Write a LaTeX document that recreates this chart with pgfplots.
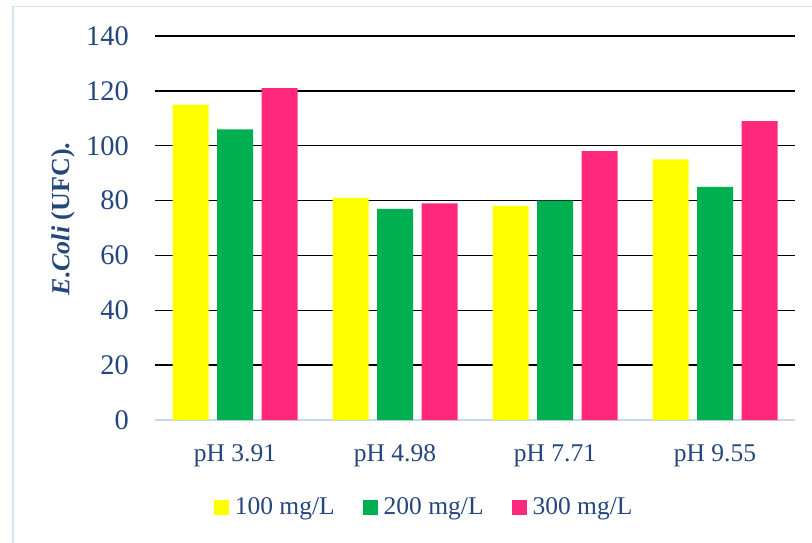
\documentclass[border=0pt]{standalone}
\usepackage{pgfplots}
\pgfplotsset{compat=1.18}
\usepackage{fontspec}
\setmainfont{Liberation Serif}

\definecolor{navy}{RGB}{35,70,125}
\definecolor{barY}{RGB}{255,255,0}
\definecolor{barG}{RGB}{0,176,80}
\definecolor{barP}{RGB}{255,40,125}
\definecolor{frameblue}{RGB}{214,227,243}
\definecolor{baseblue}{RGB}{200,216,236}

\begin{document}
\begin{tikzpicture}[x=1pt,y=1pt]
\useasboundingbox (0,0) rectangle (812,542);
% chart frame
\draw[frameblue, line width=1.4pt] (13,-5) -- (13,535.5) -- (820,535.5);
\begin{axis}[
  at={(155pt,122pt)}, anchor=south west,
  scale only axis, width=640pt, height=384pt,
  xmin=-0.5, xmax=3.5, ymin=0, ymax=140,
  ybar=8.5pt, bar width=36pt,
  axis line style={draw=none},
  major tick length=0pt,
  ytick={20,40,...,140},
  extra y ticks={0},
  extra y tick style={grid=major, major grid style={baseblue, line width=2.2pt}},
  ymajorgrids,
  major grid style={black, line width=1.5pt},
  xtick={0,1,2,3},
  xticklabels={pH 3.91, pH 4.98, pH 7.71, pH 9.55},
  /pgf/number format/assume math mode=true,
  yticklabel style={font=\fontsize{28.4}{30}\selectfont, text=navy, anchor=east, inner sep=0pt, xshift=-26pt},
  xticklabel style={font=\fontsize{25.5}{28}\selectfont, text=navy, anchor=base, inner sep=0pt, yshift=-41.5pt},
  legend columns=3,
  legend style={at={(0.419,-0.2266)}, anchor=center, draw=none, fill=none,
    font=\fontsize{25.5}{28}\selectfont, text=navy,
    inner sep=0pt, column sep=0pt,
    nodes={inner sep=0pt},
    /tikz/every odd column/.append style={column sep=6pt},
    /tikz/every even column/.append style={column sep=28pt}},
  legend image code/.code={\fill[#1, draw=none] (0pt,-7.5pt) rectangle (15pt,7.5pt);},
]
\addplot[fill=barY, draw=none] coordinates {(0,115) (1,81) (2,78) (3,95)};
\addplot[fill=barG, draw=none] coordinates {(0,106) (1,77) (2,80) (3,85)};
\addplot[fill=barP, draw=none] coordinates {(0,121) (1,79) (2,98) (3,109)};
\legend{100 mg/L, 200 mg/L, 300 mg/L}
\end{axis}
\node[rotate=90, text=navy, font=\fontsize{26}{28}\selectfont\bfseries] at (63,323) {\textit{E.Coli} (UFC).};
\end{tikzpicture}
\end{document}
